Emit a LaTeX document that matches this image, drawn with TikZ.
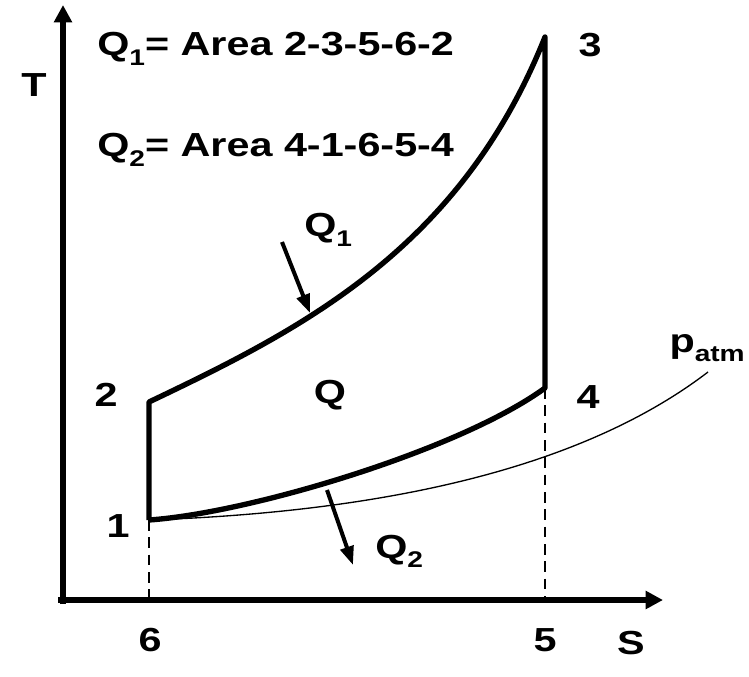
\documentclass[tikz,border=0pt]{standalone}
\usepackage{fontspec}
\setmainfont{Liberation Sans}[FakeStretch=1.24]
\usetikzlibrary{arrows.meta}
\newcommand\lowidx[1]{\raisebox{-0.28em}{\fontsize{17}{20}\selectfont #1}}

\begin{document}
\begin{tikzpicture}[x=0.75pt, y=-0.75pt,
  every node/.style={font=\bfseries\fontsize{25}{30}\selectfont, inner sep=0pt},
  axis/.style={line width=3.8pt, -{Triangle[length=13pt,width=13pt]}},
  proc/.style={line width=4pt, line join=round},
  heat/.style={line width=3pt, -{Triangle[length=14pt,width=10pt]}},
  guide/.style={line width=1.6pt, dash pattern=on 8pt off 5pt}]
\useasboundingbox (0,0) rectangle (749,677);
% state points
\coordinate (p1) at (149,520);
\coordinate (p2) at (149,402);
\coordinate (p3) at (545,37);
\coordinate (p4) at (545,388);
\coordinate (s6) at (149,600);
\coordinate (s5) at (545,600);
% axes
\draw[axis] (58,600) -- (663,600);
\draw[axis] (63,604) -- (63,5);
% cycle
\draw[proc] (p1) -- (p2) .. controls (300,330) and (460,250) .. (p3) -- (p4)
  .. controls (460,450) and (250,513) .. (p1);
\draw[line width=1pt] (p1) .. controls (380,512) and (580,470) .. (708,372);
\draw[guide] (p1) -- (s6);
\draw[guide] (p4) -- (s5);
% heat arrows
\draw[heat] (282,242) -- (310,313);
\draw[heat] (327,490) -- (353,565);
% labels
\node (lT) at (34,85) {T};
\node (lS) at (631,643) {S};
\node[anchor=base west] (area1) at (97,56) {Q\lowidx{1}= Area 2-3-5-6-2};
\node[anchor=base west] (area2) at (97,157) {Q\lowidx{2}= Area 4-1-6-5-4};
\node (l1) at (118,526) {1};
\node (l2) at (106,395) {2};
\node (l3) at (590,45) {3};
\node (l4) at (588,397) {4};
\node (l5) at (545,640) {5};
\node (l6) at (150,640) {6};
\node (lQ) at (330,395) {Q};
\node[anchor=base west] (lQ1) at (304,237) {Q\lowidx{1}};
\node[anchor=base west] (lQ2) at (375,558) {Q\lowidx{2}};
\node[anchor=base east] (patm) at (745,352) {p\lowidx{atm}};
\end{tikzpicture}
\end{document}
